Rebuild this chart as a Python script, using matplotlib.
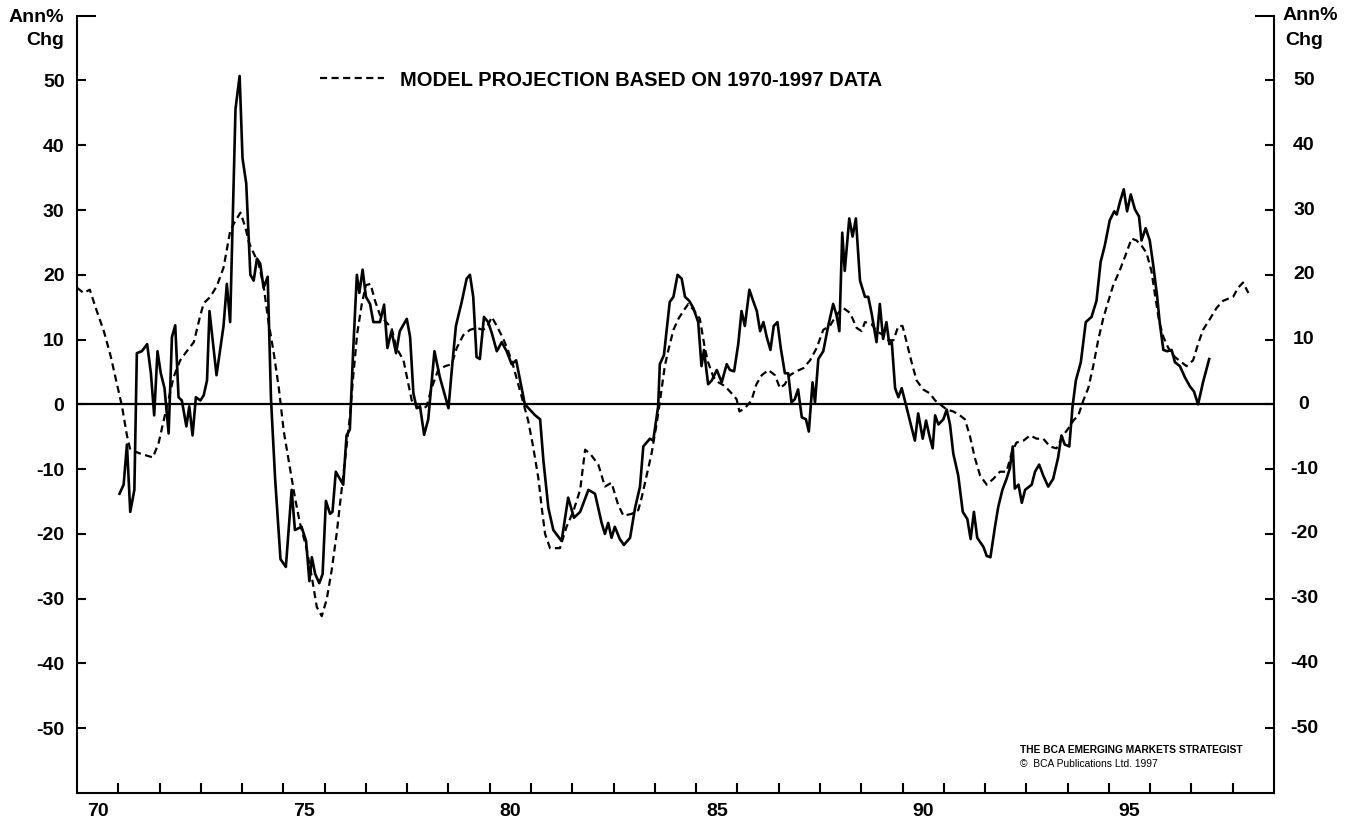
import matplotlib.pyplot as plt

plt.rcParams['font.family'] = ['Liberation Sans', 'DejaVu Sans']
plt.rcParams['font.weight'] = 'bold'

# actual annual % change (solid line)
actual_x = [1971.03, 1971.13, 1971.21, 1971.29, 1971.39, 1971.45, 1971.57, 1971.70, 1971.79, 1971.87,
            1971.95, 1972.03, 1972.12, 1972.22, 1972.30, 1972.38, 1972.46, 1972.54, 1972.65, 1972.72,
            1972.80, 1972.88, 1972.99, 1973.07, 1973.15, 1973.21, 1973.38, 1973.55, 1973.63, 1973.71,
            1973.84, 1973.94, 1974.01, 1974.10, 1974.20, 1974.28, 1974.36, 1974.44, 1974.52, 1974.62,
            1974.70, 1974.80, 1974.93, 1975.06, 1975.20, 1975.28, 1975.44, 1975.55, 1975.63, 1975.69,
            1975.77, 1975.87, 1975.95, 1976.03, 1976.13, 1976.19, 1976.27, 1976.37, 1976.45, 1976.53,
            1976.61, 1976.69, 1976.78, 1976.84, 1976.92, 1977.00, 1977.10, 1977.18, 1977.34, 1977.44,
            1977.52, 1977.62, 1977.73, 1977.82, 1977.99, 1978.07, 1978.15, 1978.23, 1978.31, 1978.41,
            1978.51, 1978.66, 1978.79, 1979.00, 1979.08, 1979.18, 1979.32, 1979.44, 1979.52, 1979.60,
            1979.68, 1979.76, 1979.86, 1979.96, 1980.05, 1980.17, 1980.29, 1980.41, 1980.53, 1980.64,
            1980.73, 1980.85, 1980.97, 1981.10, 1981.22, 1981.30, 1981.42, 1981.54, 1981.74, 1981.90,
            1982.04, 1982.19, 1982.39, 1982.55, 1982.71, 1982.79, 1982.87, 1982.95, 1983.03, 1983.15,
            1983.25, 1983.40, 1983.52, 1983.64, 1983.72, 1983.80, 1983.88, 1983.96, 1984.08, 1984.12,
            1984.22, 1984.36, 1984.45, 1984.55, 1984.65, 1984.73, 1984.83, 1984.93, 1985.05, 1985.13,
            1985.19, 1985.29, 1985.38, 1985.50, 1985.62, 1985.74, 1985.82, 1985.92, 1986.02, 1986.10,
            1986.18, 1986.29, 1986.38, 1986.47, 1986.55, 1986.63, 1986.71, 1986.80, 1986.88, 1986.97,
            1987.05, 1987.15, 1987.23, 1987.31, 1987.39, 1987.47, 1987.56, 1987.66, 1987.73, 1987.82,
            1987.88, 1987.96, 1988.08, 1988.20, 1988.32, 1988.40, 1988.47, 1988.54, 1988.60, 1988.71,
            1988.79, 1988.87, 1988.97, 1989.09, 1989.17, 1989.25, 1989.37, 1989.45, 1989.53, 1989.61,
            1989.68, 1989.74, 1989.82, 1989.90, 1989.98, 1990.08, 1990.20, 1990.30, 1990.38, 1990.49,
            1990.57, 1990.65, 1990.73, 1990.79, 1990.87, 1990.99, 1991.07, 1991.15, 1991.23, 1991.35,
            1991.46, 1991.57, 1991.65, 1991.73, 1991.81, 1991.96, 1992.04, 1992.13, 1992.24, 1992.32,
            1992.42, 1992.52, 1992.60, 1992.67, 1992.72, 1992.81, 1992.89, 1992.97, 1993.13, 1993.21,
            1993.31, 1993.41, 1993.53, 1993.65, 1993.77, 1993.85, 1993.93, 1994.04, 1994.12, 1994.20,
            1994.32, 1994.44, 1994.58, 1994.70, 1994.80, 1994.90, 1995.02, 1995.13, 1995.19, 1995.27,
            1995.36, 1995.44, 1995.53, 1995.63, 1995.73, 1995.79, 1995.89, 1995.99, 1996.07, 1996.17,
            1996.23, 1996.32, 1996.41, 1996.52, 1996.60, 1996.72, 1996.84, 1996.96, 1997.06, 1997.16,
            1997.28, 1997.43]
actual_y = [-13.8, -12.4, -6.2, -16.6, -13.2, 7.9, 8.2, 9.3, 4.8, -1.7,
            8.2, 4.8, 2.5, -4.5, 10.4, 12.2, 1.1, 0.6, -3.4, -0.3,
            -4.8, 1.1, 0.6, 1.4, 3.7, 14.4, 4.5, 12.1, 18.6, 12.7,
            45.6, 50.7, 38.0, 34.1, 20.0, 19.1, 22.5, 21.7, 18.0, 19.7,
            0.8, -11.5, -23.9, -25.1, -13.2, -19.4, -18.9, -21.1, -27.3, -23.6,
            -26.2, -27.6, -26.2, -14.9, -16.9, -16.6, -10.4, -11.5, -12.4, -4.8,
            -3.9, 8.2, 20.0, 17.2, 20.8, 16.6, 15.5, 12.7, 12.7, 15.4,
            8.7, 11.3, 7.9, 11.3, 13.2, 10.4, 1.7, -0.6, -0.3, -4.7,
            -2.3, 8.2, 4.2, -0.6, 5.3, 12.1, 15.8, 19.4, 20.0, 16.6,
            7.3, 7.0, 13.5, 12.7, 11.0, 8.2, 9.6, 8.2, 6.2, 6.8,
            3.9, 0.0, -0.8, -1.7, -2.3, -8.7, -16.0, -19.4, -21.1, -14.4,
            -17.5, -16.6, -13.2, -13.8, -18.3, -20.0, -18.3, -20.6, -18.9, -20.8,
            -21.7, -20.6, -16.0, -12.7, -6.5, -5.9, -5.3, -5.6, -0.3, 6.2,
            7.6, 15.8, 16.6, 20.0, 19.4, 16.6, 16.0, 14.9, 12.7, 5.9,
            8.4, 3.1, 3.7, 5.3, 3.4, 6.2, 5.3, 5.1, 9.3, 14.4,
            12.1, 17.7, 16.0, 14.4, 11.3, 12.7, 10.4, 8.4, 12.1, 12.7,
            8.7, 4.8, 4.8, 0.3, 0.8, 2.3, -2.0, -2.3, -4.2, 3.4,
            0.3, 7.0, 8.2, 12.1, 15.5, 13.8, 11.3, 26.5, 20.6, 28.7,
            25.9, 28.7, 19.1, 16.6, 16.6, 14.1, 9.6, 15.5, 10.1, 12.7,
            9.3, 9.6, 2.5, 1.1, 2.5, 0.0, -3.1, -5.6, -1.4, -5.3,
            -2.5, -4.8, -6.8, -1.7, -3.1, -2.3, -0.8, -3.1, -7.6, -11.0,
            -16.6, -17.7, -20.8, -16.6, -20.6, -22.0, -23.4, -23.6, -18.9, -15.8,
            -13.2, -11.5, -9.9, -6.5, -13.0, -12.4, -15.2, -13.2, -12.4, -10.4,
            -9.3, -11.0, -12.7, -11.5, -8.2, -4.8, -6.2, -6.5, -0.3, 3.7,
            6.5, 12.7, 13.5, 16.0, 22.0, 24.5, 28.4, 29.8, 29.3, 31.3,
            33.2, 29.8, 32.4, 30.1, 29.0, 25.3, 27.2, 25.3, 21.7, 16.6,
            12.7, 8.4, 8.2, 8.4, 6.5, 5.9, 4.2, 2.8, 2.0, 0.0,
            3.4, 7.0]

# model projection (dashed line)
model_x = [1970.00, 1970.16, 1970.31, 1970.48, 1970.65, 1970.81, 1970.97, 1971.09, 1971.21, 1971.29,
           1971.53, 1971.84, 1971.98, 1972.10, 1972.22, 1972.34, 1972.50, 1972.66, 1972.83, 1972.99,
           1973.07, 1973.23, 1973.39, 1973.55, 1973.71, 1973.80, 1973.96, 1974.08, 1974.16, 1974.24,
           1974.40, 1974.52, 1974.64, 1974.76, 1974.89, 1975.01, 1975.16, 1975.28, 1975.40, 1975.56,
           1975.69, 1975.81, 1975.93, 1976.05, 1976.17, 1976.29, 1976.41, 1976.53, 1976.61, 1976.69,
           1976.79, 1976.90, 1977.00, 1977.11, 1977.22, 1977.34, 1977.46, 1977.62, 1977.74, 1977.91,
           1978.03, 1978.11, 1978.23, 1978.35, 1978.47, 1978.59, 1978.75, 1978.92, 1979.08, 1979.20,
           1979.36, 1979.52, 1979.68, 1979.84, 1979.94, 1980.05, 1980.17, 1980.33, 1980.45, 1980.57,
           1980.69, 1980.81, 1980.93, 1981.05, 1981.18, 1981.26, 1981.34, 1981.46, 1981.70, 1981.86,
           1982.02, 1982.19, 1982.31, 1982.43, 1982.63, 1982.79, 1982.95, 1983.11, 1983.24, 1983.44,
           1983.60, 1983.68, 1983.80, 1983.92, 1984.04, 1984.12, 1984.24, 1984.32, 1984.45, 1984.57,
           1984.69, 1984.81, 1984.95, 1985.09, 1985.21, 1985.29, 1985.42, 1985.54, 1985.70, 1985.86,
           1985.98, 1986.05, 1986.18, 1986.34, 1986.46, 1986.59, 1986.75, 1986.91, 1987.03, 1987.15,
           1987.27, 1987.43, 1987.60, 1987.76, 1987.92, 1988.08, 1988.24, 1988.40, 1988.56, 1988.73,
           1988.89, 1989.01, 1989.09, 1989.25, 1989.37, 1989.53, 1989.65, 1989.78, 1989.90, 1990.00,
           1990.10, 1990.22, 1990.34, 1990.50, 1990.66, 1990.79, 1990.91, 1991.07, 1991.23, 1991.39,
           1991.51, 1991.63, 1991.75, 1991.88, 1992.04, 1992.20, 1992.36, 1992.52, 1992.64, 1992.76,
           1992.93, 1993.09, 1993.25, 1993.41, 1993.57, 1993.73, 1993.89, 1994.02, 1994.14, 1994.26,
           1994.38, 1994.50, 1994.62, 1994.74, 1994.86, 1994.98, 1995.10, 1995.27, 1995.39, 1995.55,
           1995.67, 1995.79, 1995.91, 1996.03, 1996.11, 1996.22, 1996.32, 1996.44, 1996.60, 1996.76,
           1996.88, 1997.04, 1997.16, 1997.28, 1997.45, 1997.61, 1997.77, 1997.89, 1998.01, 1998.13,
           1998.25, 1998.38]
model_y = [18.0, 17.2, 17.7, 14.4, 11.3, 7.6, 3.1, -0.3, -4.8, -7.0,
           -7.6, -8.2, -5.9, -2.5, 0.8, 4.2, 6.8, 8.2, 9.6, 13.8,
           15.6, 16.6, 18.3, 21.1, 26.7, 27.9, 29.6, 27.3, 25.1, 23.9,
           21.7, 18.3, 12.7, 8.2, 2.5, -4.2, -9.9, -14.4, -18.3, -22.2,
           -26.7, -31.3, -32.7, -30.1, -25.6, -20.0, -13.2, -6.5, -2.0, 4.2,
           11.0, 15.5, 18.4, 18.6, 16.0, 13.8, 12.9, 11.8, 8.7, 6.8,
           3.1, 0.6, -0.3, -0.8, -0.3, 2.5, 5.3, 5.9, 6.2, 8.7,
           10.7, 11.5, 11.8, 11.5, 12.0, 13.5, 12.1, 10.1, 8.2, 5.9,
           3.1, 0.3, -2.5, -6.5, -11.5, -16.0, -20.0, -22.2, -22.2, -18.9,
           -16.6, -13.2, -7.0, -7.6, -9.3, -12.7, -12.1, -15.5, -17.2, -16.9,
           -16.3, -14.4, -11.0, -7.6, -3.1, 0.3, 5.9, 8.2, 11.5, 13.2,
           14.4, 15.5, 14.5, 13.2, 8.7, 6.5, 4.2, 3.4, 2.8, 1.7,
           0.8, -1.1, -0.6, 0.6, 3.1, 4.5, 5.3, 4.5, 2.5, 3.1,
           4.5, 5.1, 5.6, 6.8, 8.7, 11.5, 12.1, 13.8, 14.9, 14.1,
           11.8, 11.3, 12.7, 12.4, 11.3, 10.7, 9.9, 9.9, 12.1, 12.1,
           9.6, 6.5, 3.7, 2.3, 1.7, 0.6, 0.0, -0.8, -1.1, -1.7,
           -2.3, -4.8, -8.2, -11.0, -12.4, -11.5, -10.4, -10.4, -7.6, -5.9,
           -5.6, -4.8, -5.3, -5.3, -6.5, -6.8, -4.8, -3.7, -2.5, -1.7,
           0.6, 2.5, 5.9, 9.9, 13.2, 15.8, 18.3, 20.8, 22.8, 25.6,
           25.3, 24.5, 23.4, 20.6, 17.2, 12.7, 10.4, 8.7, 7.3, 6.5,
           5.9, 6.8, 9.3, 11.5, 13.2, 14.9, 16.0, 16.3, 16.6, 18.0,
           18.8, 17.2]

year_ticks = list(range(1971, 1999))
label_pos = [1970.5, 1975.5, 1980.5, 1985.5, 1990.5, 1995.5]
label_txt = ['70', '75', '80', '85', '90', '95']
y_ticks = [-50, -40, -30, -20, -10, 0, 10, 20, 30, 40, 50]

W, H = 1347, 823
fig = plt.figure(figsize=(W / 100, H / 100), dpi=100)
ax = fig.add_axes([77 / W, 30 / H, 1197 / W, 777.3 / H])

l1, = ax.plot(model_x, model_y, color='black', lw=1.6, dashes=(3.2, 2.0),
              label='MODEL PROJECTION BASED ON 1970-1997 DATA')
ax.plot(actual_x, actual_y, color='black', lw=1.9)
ax.axhline(0, color='black', lw=1.6)

ax.set_xlim(1970, 1999)
ax.set_ylim(-60, 60)

ax.spines['top'].set_visible(False)
for s in ['left', 'right', 'bottom']:
    ax.spines[s].set_linewidth(1.5)

# x axis: year ticks, labels centred in the year
ax.set_xticks(year_ticks)
ax.set_xticklabels([])
ax.set_xticks(label_pos, minor=True)
ax.set_xticklabels(label_txt, minor=True, fontsize=14, weight='bold')
ax.tick_params(axis='x', which='major', direction='in', length=7, width=1.5)
ax.tick_params(axis='x', which='minor', length=0, pad=7)

# y axis, left labels + long tick at the top
ax.set_yticks(y_ticks)
ax.set_yticklabels([str(v) for v in y_ticks], fontsize=14, weight='bold')
ax.set_yticks([60], minor=True)
ax.set_yticklabels(['Ann%'], minor=True, fontsize=14, weight='bold')
ax.tick_params(axis='y', which='major', direction='in', length=6.5, width=1.5,
               left=True, right=True, pad=9)
ax.tick_params(axis='y', which='minor', direction='in', length=14, width=1.5,
               left=True, right=True, pad=9)

tr = ax.get_yaxis_transform()
ax.text(-13 / 1197, 60 - 25 / 6.48, 'Chg', transform=tr, ha='right', va='center',
        fontsize=14, weight='bold')

# right side labels (centred)
xr = 1 + 30 / 1197
for v in y_ticks:
    ax.text(xr, v, str(v), transform=tr, ha='center', va='center', fontsize=14, weight='bold')
ax.text(xr + 6 / 1197, 60, 'Ann%', transform=tr, ha='center', va='center', fontsize=14, weight='bold')
ax.text(xr, 60 - 25 / 6.48, 'Chg', transform=tr, ha='center', va='center', fontsize=14, weight='bold')

ax.legend(handles=[l1], loc='center left', bbox_to_anchor=(320 / W, 1 - 80 / H),
          bbox_transform=fig.transFigure, frameon=False, handlelength=3.2,
          handletextpad=0.75, borderpad=0, borderaxespad=0,
          prop={'size': 14.5, 'weight': 'bold'})

fig.text(1020 / W, 1 - 750 / H, 'THE BCA EMERGING MARKETS STRATEGIST', fontsize=7.4,
         weight='bold', va='center')
fig.text(1020 / W, 1 - 764 / H, '\u00a9  BCA Publications Ltd. 1997', fontsize=7.4,
         weight='normal', va='center')

fig.savefig('out.png', dpi=100)
